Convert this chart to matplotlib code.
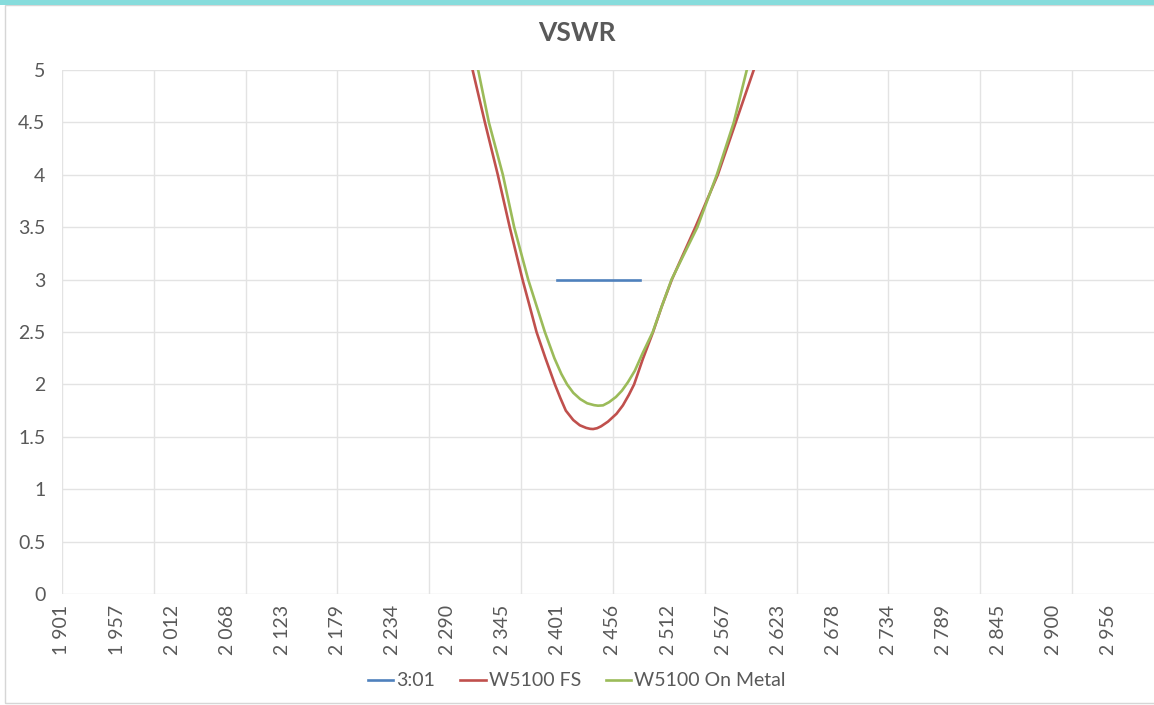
import matplotlib.pyplot as plt
from matplotlib.patches import Rectangle

# values (MHz, VSWR)
band_freq = [2400, 2483.5]
band_vswr = [3.0, 3.0]

fs_freq = [2314.6, 2327, 2340, 2352, 2364.9, 2372, 2379, 2388, 2397.5,
           2403, 2408.5, 2416, 2422.6, 2429, 2433, 2436, 2440, 2444,
           2451, 2459.6, 2466, 2472, 2477.3, 2486, 2496.4, 2505, 2515.3,
           2539, 2561.6, 2579.7, 2597.8]
fs_vswr = [5.0, 4.5, 4.0, 3.5, 3.0, 2.75, 2.5, 2.25, 2.0,
           1.87, 1.75, 1.66, 1.61, 1.585, 1.576, 1.574, 1.582, 1.60,
           1.645, 1.72, 1.80, 1.90, 2.0, 2.24, 2.5, 2.74, 3.0,
           3.5, 4.0, 4.5, 5.0]

metal_freq = [2320.2, 2331, 2345.1, 2356.5, 2370.6, 2379, 2387.4, 2397,
              2404, 2409.8, 2416, 2423, 2430, 2437, 2441, 2446, 2452, 2459,
              2465, 2471, 2478, 2486, 2496.1, 2505, 2515, 2541, 2560.6,
              2577.7, 2590.8]
metal_vswr = [5.0, 4.5, 4.0, 3.5, 3.0, 2.75, 2.5, 2.25,
              2.1, 2.0, 1.92, 1.86, 1.82, 1.802, 1.797, 1.80, 1.83, 1.88,
              1.94, 2.02, 2.13, 2.3, 2.5, 2.74, 3.0, 3.5, 4.0,
              4.5, 5.0]

tick_freq = [1901 + 55.5 * i for i in range(20)]
tick_labels = ["1 901", "1 957", "2 012", "2 068", "2 123", "2 179", "2 234",
               "2 290", "2 345", "2 401", "2 456", "2 512", "2 567", "2 623",
               "2 678", "2 734", "2 789", "2 845", "2 900", "2 956"]
grid_freq = [1901 + 92.5 * i for i in range(12)]
y_ticks = [0, 0.5, 1, 1.5, 2, 2.5, 3, 3.5, 4, 4.5, 5]
y_labels = ["0", "0.5", "1", "1.5", "2", "2.5", "3", "3.5", "4", "4.5", "5"]

plt.rcParams['font.family'] = ['Lato', 'DejaVu Sans']
text_col = "#595959"
grid_col = "#e3e3e3"

fig = plt.figure(figsize=(11.54, 7.05), dpi=100)
fig.patch.set_facecolor("white")

# chart border + cyan band at the top
fig.add_artist(Rectangle((5 / 1154, 2 / 705), 1.0, 698 / 705, transform=fig.transFigure,
                         fill=False, edgecolor="#d6d6d6", linewidth=1.0))
fig.add_artist(Rectangle((0, 1 - 5 / 705), 1.0, 5 / 705, transform=fig.transFigure,
                         facecolor="#86dcdc", edgecolor="none"))

ax = fig.add_axes([62 / 1154, 1 - 594 / 705, 1 - 62 / 1154, 524 / 705])
ax.set_xlim(1901, 3001)
ax.set_ylim(0, 5)

for g in grid_freq:
    ax.axvline(g, color=grid_col, linewidth=1.0, zorder=0)
for yv in y_ticks:
    ax.axhline(yv, color=grid_col, linewidth=1.0, zorder=0)

ax.plot(band_freq, band_vswr, color="#4F81BD", linewidth=1.9, label="3:01")
ax.plot(fs_freq, fs_vswr, color="#C0504D", linewidth=1.9, label="W5100 FS")
ax.plot(metal_freq, metal_vswr, color="#9BBB59", linewidth=1.9, label="W5100 On Metal")

for s in ax.spines.values():
    s.set_visible(False)

ax.set_yticks(y_ticks)
ax.set_yticklabels(y_labels)
ax.set_xticks(tick_freq)
ax.set_xticklabels(tick_labels, rotation=90, ha="center", va="top")
ax.tick_params(axis="y", length=0, pad=12, labelsize=14, labelcolor=text_col)
ax.tick_params(axis="x", length=0, pad=8, labelsize=14, labelcolor=text_col)

fig.text(0.5, 1 - 33 / 705, "VSWR", ha="center", va="center",
         fontsize=19, fontweight="bold", color=text_col)

leg = fig.legend(loc="center", bbox_to_anchor=(0.5, 1 - 681 / 705), ncol=3,
                 frameon=False, fontsize=14, handlelength=1.3,
                 handletextpad=0.15, columnspacing=1.3)
for t in leg.get_texts():
    t.set_color(text_col)

fig.savefig("out.png", dpi=100, facecolor="white")
